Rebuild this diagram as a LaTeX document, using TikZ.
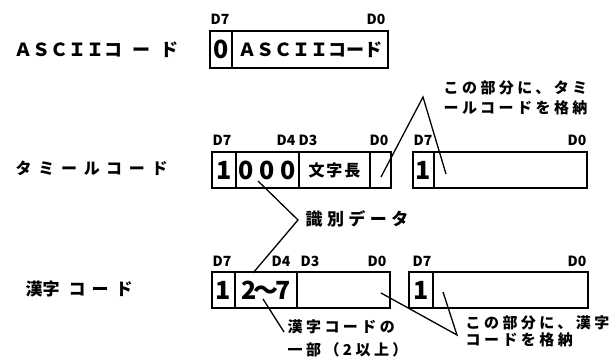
\documentclass[tikz,border=0pt]{standalone}
\usepackage{fontspec}
\setmainfont{Noto Sans CJK JP}
\usetikzlibrary{positioning}

\begin{document}
\begin{tikzpicture}[x=1pt,y=-1pt,line width=1.3pt,
    cell/.style={draw,inner sep=0pt,outer sep=0pt,minimum height=36pt,font=\fontsize{25}{25}\selectfont\bfseries},
    bit/.style={inner sep=0pt,font=\fontsize{14}{14}\selectfont\bfseries},
    rowlbl/.style={anchor=west,inner sep=0pt,font=\fontsize{17}{17}\selectfont\bfseries},
    note/.style={anchor=west,inner sep=0pt,align=left,font=\fontsize{15}{20}\selectfont\bfseries\addfontfeatures{LetterSpace=23}}]
  \useasboundingbox (0,0) rectangle (610,358);
  % row labels
  \node[rowlbl,font=\fontsize{18}{18}\selectfont\bfseries] (lasc) at (14,50) {ＡＳＣＩＩコ\kern10pt ー\kern10pt ド};
  \node[rowlbl,font=\fontsize{16}{16}\selectfont\bfseries\addfontfeatures{LetterSpace=42}] (ltam) at (15,168) {タミールコード};
  \node[rowlbl] (lkan) at (25,289) {漢字\kern9pt コ\kern6pt ー\kern7pt ド};
  % ASCII code
  \node[cell,minimum height=37pt,minimum width=22pt,anchor=north west] (a0) at (210,31) {0};
  \node[cell,minimum height=37pt,minimum width=156pt,right=0pt of a0,font=\fontsize{18}{18}\selectfont\bfseries] (a1) {ＡＳＣＩＩコード};
  \node[bit,anchor=base west] (a0d) at ([yshift=6pt]a0.north west) {D7};
  \node[bit,anchor=base east] (a1d) at ([xshift=-2pt,yshift=6pt]a1.north east) {D0};
  % tamil code
  \node[cell,minimum width=24pt,anchor=north west] (t0) at (212,152) {1};
  \node[cell,minimum width=63pt,right=0pt of t0] (t1) {0 0 0};
  \node[cell,minimum width=71pt,right=0pt of t1,font=\fontsize{16}{16}\selectfont\bfseries\addfontfeatures{LetterSpace=12}] (t2) {文字長};
  \node[cell,minimum width=21pt,right=0pt of t2] (t3) {};
  \node[cell,minimum width=21pt,anchor=north west] (u0) at (413,152) {1};
  \node[cell,minimum width=153pt,right=0pt of u0] (u1) {};
  \node[bit,anchor=base west] (t0d) at ([yshift=6pt]t0.north west) {D7};
  \node[bit,anchor=base east] (t1d) at ([xshift=-3pt,yshift=6pt]t1.north east) {D4};
  \node[bit,anchor=base west] (t2d) at ([xshift=-1pt,yshift=6pt]t2.north west) {D3};
  \node[bit,anchor=base east] (t3d) at ([xshift=-2pt,yshift=6pt]t3.north east) {D0};
  \node[bit,anchor=base west] (u0d) at ([yshift=6pt]u0.north west) {D7};
  \node[bit,anchor=base east] (u1d) at ([yshift=6pt]u1.north east) {D0};
  % kanji code
  \node[cell,minimum width=23pt,anchor=north west] (k0) at (212,272) {1};
  \node[cell,minimum width=62pt,right=0pt of k0] (k1) {2\kern-3pt〜\kern-3pt7};
  \node[cell,minimum width=93pt,right=0pt of k1] (k2) {};
  \node[cell,minimum width=24pt,anchor=north west] (m0) at (409,272) {1};
  \node[cell,minimum width=155pt,right=0pt of m0] (m1) {};
  \node[bit,anchor=base west] (k0d) at ([yshift=6pt]k0.north west) {D7};
  \node[bit,anchor=base east] (k1d) at ([xshift=-6pt,yshift=6pt]k1.north east) {D4};
  \node[bit,anchor=base west] (k2d) at ([xshift=3pt,yshift=6pt]k2.north west) {D3};
  \node[bit,anchor=base east] (k2e) at ([xshift=-3pt,yshift=6pt]k2.north east) {D0};
  \node[bit,anchor=base west] (m0d) at ([xshift=3pt,yshift=6pt]m0.north west) {D7};
  \node[bit,anchor=base east] (m1d) at ([xshift=-1pt,yshift=6pt]m1.north east) {D0};
  % callouts
  \coordinate (tcut) at (381,177);
  \coordinate (ttop) at (423,97);
  \coordinate (tend) at (446,174);
  \draw (tcut) -- (ttop) -- (tend);
  \node[note] (tnote) at (443,98) {この部分に、タミ\\ールコードを格納};
  \coordinate (ida) at (258,181);
  \coordinate (idtip) at (298,220);
  \coordinate (idb) at (253,273);
  \draw (ida) -- (idtip) -- (idb);
  \node[note,font=\fontsize{17}{17}\selectfont\bfseries\addfontfeatures{LetterSpace=26}] (idnote) at (305,219) {識別データ};
  \coordinate (kpart) at (263,299);
  \coordinate (kpend) at (284,332);
  \draw (kpart) -- (kpend);
  \node[note] (kpnote) at (287,338) {漢字コードの\\[3pt]一部（2以上）};
  \coordinate (kcut) at (381,293);
  \coordinate (ktip) at (457,335);
  \coordinate (kend) at (443,292);
  \draw (kcut) -- (ktip) -- (kend);
  \node[note] (knote) at (465,331) {この部分に、漢字\\[-3pt]コードを格納};
\end{tikzpicture}
\end{document}
